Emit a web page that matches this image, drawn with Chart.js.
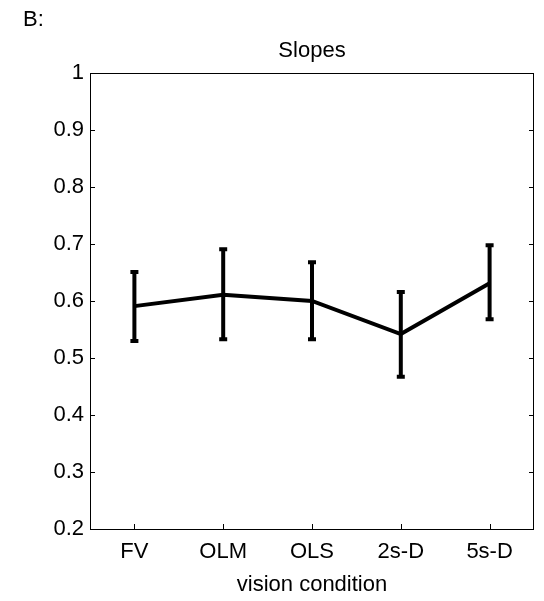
<!DOCTYPE html>
<html>
<head>
<meta charset="utf-8">
<script src="https://cdn.jsdelivr.net/npm/chart.js@4.4.0/dist/chart.umd.min.js"></script>
<style>
  html, body { margin: 0; padding: 0; background: #fff; }
  #wrap { width: 544px; height: 601px; }
</style>
</head>
<body>
<div id="wrap"><canvas id="slopesChart"></canvas></div>
<script>
// Data
const conditions = ['FV', 'OLM', 'OLS', '2s-D', '5s-D'];
const slopeMeans = [0.591, 0.611, 0.600, 0.542, 0.631];
const slopeUpper = [0.651, 0.691, 0.668, 0.616, 0.698];
const slopeLower = [0.530, 0.533, 0.533, 0.467, 0.568];
const yTicks = [0.2, 0.3, 0.4, 0.5, 0.6, 0.7, 0.8, 0.9, 1];

const FONT = 'Liberation Sans, Arial, sans-serif';
const FSIZE = 22;

// Box around plot + inward ticks (matlab style)
const boxPlugin = {
    id: 'boxPlugin',
    beforeDatasetsDraw(chart) {
        const { ctx, chartArea: a, scales } = chart;
        ctx.save();
        ctx.strokeStyle = '#000';
        ctx.lineWidth = 1;
        ctx.strokeRect(a.left + 0.5, a.top + 0.5, a.right - a.left - 1, a.bottom - a.top);
        ctx.beginPath();
        yTicks.forEach(v => {
            const y = Math.round(scales.y.getPixelForValue(v)) + 0.5;
            ctx.moveTo(a.left, y); ctx.lineTo(a.left + 5, y);
            ctx.moveTo(a.right, y); ctx.lineTo(a.right - 5, y);
        });
        conditions.forEach((c, i) => {
            const x = Math.round(scales.x.getPixelForValue(i)) + 0.5;
            ctx.moveTo(x, a.bottom); ctx.lineTo(x, a.bottom - 5);
        });
        ctx.stroke();
        ctx.restore();
    },
    afterDatasetsDraw(chart) {
        // error bars
        const { ctx, scales } = chart;
        ctx.save();
        ctx.strokeStyle = '#000';
        ctx.lineWidth = 4;
        ctx.lineCap = 'butt';
        conditions.forEach((c, i) => {
            const x = scales.x.getPixelForValue(i);
            const yt = scales.y.getPixelForValue(slopeUpper[i]);
            const yb = scales.y.getPixelForValue(slopeLower[i]);
            ctx.beginPath();
            ctx.moveTo(x, yt - 2); ctx.lineTo(x, yb + 2);
            ctx.moveTo(x - 4, yt); ctx.lineTo(x + 4, yt);
            ctx.moveTo(x - 4, yb); ctx.lineTo(x + 4, yb);
            ctx.stroke();
        });
        ctx.restore();
    },
    afterDraw(chart) {
        const { ctx, chartArea: a } = chart;
        ctx.save();
        ctx.fillStyle = '#000';
        ctx.font = FSIZE + 'px ' + FONT;
        ctx.textBaseline = 'alphabetic';
        ctx.textAlign = 'left';
        ctx.fillText('B:', 23, 26);
        ctx.textAlign = 'center';
        ctx.fillText('Slopes', (a.left + a.right) / 2, 57);
        ctx.restore();
    }
};

new Chart(document.getElementById('slopesChart').getContext('2d'), {
    type: 'line',
    data: {
        labels: conditions,
        datasets: [{
            data: slopeMeans,
            borderColor: '#000',
            borderWidth: 4,
            pointRadius: 0,
            tension: 0,
            fill: false
        }]
    },
    options: {
        responsive: true,
        maintainAspectRatio: false,
        animation: false,
        layout: { padding: { top: 73, right: 10, left: 0, bottom: 0 } },
        plugins: {
            legend: { display: false },
            tooltip: { enabled: false }
        },
        scales: {
            x: {
                type: 'category',
                offset: true,
                grid: { display: false, drawTicks: false },
                border: { display: false },
                ticks: { color: '#000', padding: 10, font: { family: FONT, size: FSIZE }, maxRotation: 0 },
                title: {
                    display: true,
                    text: 'vision condition',
                    color: '#000',
                    font: { family: FONT, size: FSIZE },
                    padding: { top: 0, bottom: 3 }
                },
                afterFit(scale) { scale.height = 72; }
            },
            y: {
                min: 0.2,
                max: 1,
                grid: { display: false, drawTicks: false },
                border: { display: false },
                afterBuildTicks(scale) { scale.ticks = yTicks.map(v => ({ value: v })); },
                ticks: {
                    color: '#000',
                    padding: 6,
                    font: { family: FONT, size: FSIZE },
                    callback: v => String(Math.round(v * 10) / 10)
                },
                afterFit(scale) { scale.width = 90; }
            }
        }
    },
    plugins: [boxPlugin]
});
</script>
</body>
</html>
